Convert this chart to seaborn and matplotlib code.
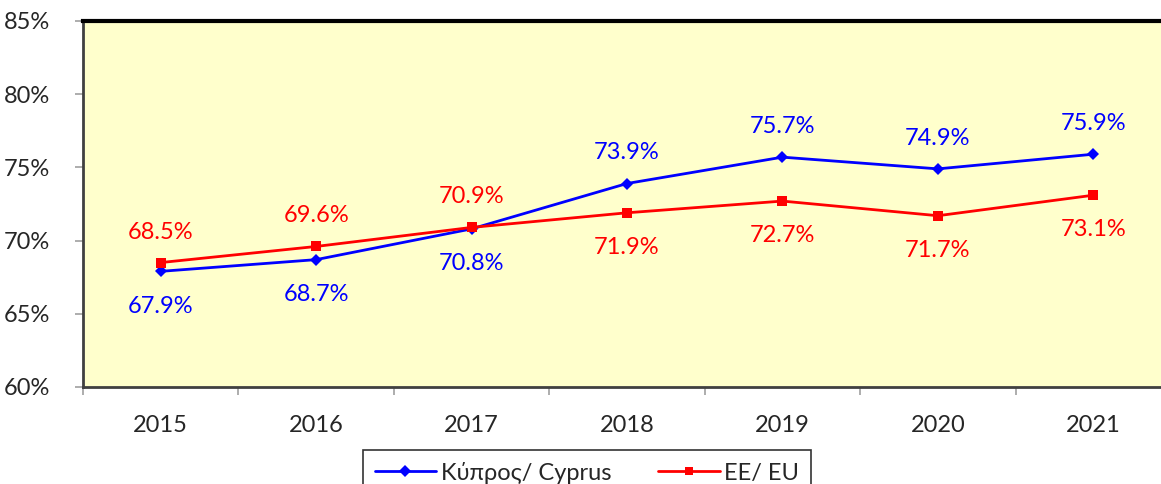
import pandas as pd
import numpy as np
import matplotlib
matplotlib.use("Agg")
import matplotlib.pyplot as plt
import seaborn as sns
from matplotlib.ticker import FixedLocator, FuncFormatter

# ─── data ─────────────────────────────────────────────
years = ["2015", "2016", "2017", "2018", "2019", "2020", "2021"]
cyprus = [67.9, 68.7, 70.8, 73.9, 75.7, 74.9, 75.9]
eu = [68.5, 69.6, 70.9, 71.9, 72.7, 71.7, 73.1]
series_names = ["Κύπρος/ Cyprus", "ΕΕ/ EU"]

# label above (+1) or below (-1) the point
cyprus_pos = [-1, -1, -1, 1, 1, 1, 1]
eu_pos = [1, 1, 1, -1, -1, -1, -1]

df = pd.DataFrame({
    "idx": list(range(len(years))) * 2,
    "value": cyprus + eu,
    "series": [series_names[0]] * len(years) + [series_names[1]] * len(years),
})

sns.set_style("white")
plt.rcParams["font.family"] = ["Lato", "DejaVu Sans"]
FS = 17

fig = plt.figure(figsize=(11.61, 4.84), dpi=100)
# plot area runs past the right edge in the original
ax = fig.add_axes([83 / 1161, 1 - 387 / 484, (1171 - 83) / 1161, (387 - 21) / 484])
ax.set_facecolor("#FFFFCC")

colors = {series_names[0]: "#0000FF", series_names[1]: "#FF0000"}
sns.lineplot(data=df, x="idx", y="value", hue="series", style="series",
             palette=colors, markers={series_names[0]: "D", series_names[1]: "s"},
             dashes=False, linewidth=2.0, markersize=6.5, markeredgewidth=0,
             ax=ax, legend=False)

# value labels
for vals, pos, col in [(cyprus, cyprus_pos, "#0000FF"), (eu, eu_pos, "#FF0000")]:
    for i, (v, p) in enumerate(zip(vals, pos)):
        off = 22 if p > 0 else -25
        ax.annotate(f"{v:.1f}%", (i, v), xytext=(0, off), textcoords="offset points",
                    ha="center", va="center", color=col, fontsize=FS)

ax.set_xlim(-0.5, 6.5)
ax.set_ylim(60, 85)
ax.set_xlabel("")
ax.set_ylabel("")

ax.xaxis.set_major_locator(FixedLocator(range(len(years))))
ax.set_xticklabels(years, fontsize=FS)
ax.xaxis.set_minor_locator(FixedLocator(np.arange(-0.5, 7, 1)))
ax.tick_params(axis="x", which="major", length=0, pad=20)
ax.tick_params(axis="x", which="minor", length=6, width=1.2, color="#A0A0A0", direction="out")
ax.xaxis.set_tick_params(bottom=True, which="both")

ax.set_yticks(range(60, 86, 5))
ax.yaxis.set_major_formatter(FuncFormatter(lambda v, _: f"{v:.0f}%"))
ax.tick_params(axis="y", length=6, width=1.2, color="#A0A0A0", direction="out",
               labelsize=FS, pad=18, left=True)

for s in ["left", "bottom"]:
    ax.spines[s].set_color("#404040")
    ax.spines[s].set_linewidth(2)
ax.spines["top"].set_color("black")
ax.spines["top"].set_linewidth(3)
ax.spines["right"].set_visible(False)

# legend below
handles = [
    plt.Line2D([], [], color="#0000FF", marker="D", markersize=6, lw=2.0, markeredgewidth=0),
    plt.Line2D([], [], color="#FF0000", marker="s", markersize=6, lw=2.0, markeredgewidth=0),
]
leg = fig.legend(handles, series_names, loc="upper center",
                 bbox_to_anchor=(587 / 1161, 1 - 438 / 484), ncol=2, fontsize=FS,
                 frameon=True, fancybox=False, edgecolor="black",
                 handlelength=2.6, columnspacing=2.0, borderpad=0.5, handletextpad=0.2)
leg.get_frame().set_linewidth(1.2)

fig.savefig("out.png", dpi=100)
